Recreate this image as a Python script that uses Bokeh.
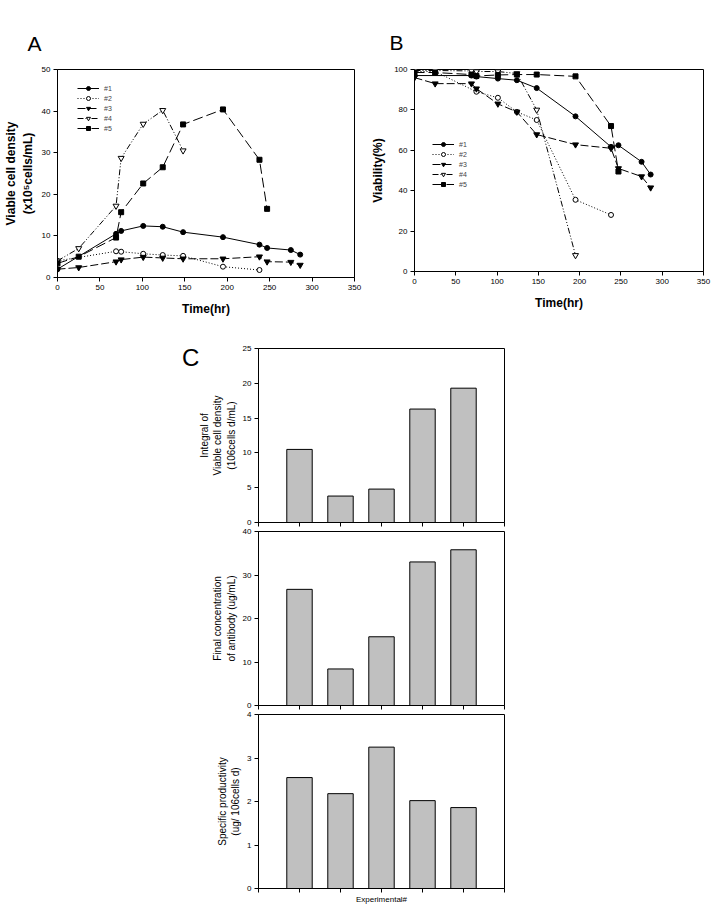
from bokeh.plotting import figure
from bokeh.layouts import column, row
from bokeh.models import Div, Legend, FixedTicker, CustomJSTickFormatter
from bokeh.embed import file_html
from bokeh.resources import INLINE

# ---------------- data ----------------
# Panel A: viable cell density (x10^5 cells/mL)
tA1 = [0, 69, 75, 101, 124, 148, 195, 238, 247, 275, 286]
vA1 = [2.0, 10.5, 11.2, 12.4, 12.2, 10.9, 9.7, 7.9, 7.1, 6.6, 5.5]
tA2 = [0, 69, 75, 101, 124, 148, 195, 238]
vA2 = [4.0, 6.3, 6.2, 5.7, 5.4, 5.2, 2.6, 1.8]
tA3 = [0, 25, 69, 75, 101, 124, 148, 195, 238, 247, 275, 286]
vA3 = [2.0, 2.4, 3.8, 4.3, 4.9, 4.7, 4.5, 4.5, 5.0, 3.8, 3.7, 3.0]
tA4 = [0, 25, 69, 75, 101, 124, 148]
vA4 = [4.0, 7.0, 17.2, 28.7, 36.9, 40.2, 30.5]
tA5 = [0, 25, 69, 75, 101, 124, 148, 195, 238, 247]
vA5 = [3.4, 5.0, 9.6, 15.7, 22.6, 26.5, 36.8, 40.4, 28.3, 16.5]

# Panel B: viability (%)
tB1 = [0, 69, 75, 101, 124, 148, 195, 238, 247, 275, 286]
vB1 = [97.0, 97.0, 96.5, 95.5, 94.7, 90.8, 76.8, 61.7, 62.5, 54.3, 48.0]
tB2 = [0, 25, 75, 101, 124, 148, 195, 238]
vB2 = [99.0, 99.0, 89.0, 86.0, 79.0, 75.0, 35.5, 28.0]
tB3 = [0, 25, 69, 75, 101, 124, 148, 195, 238, 247, 275, 286]
vB3 = [96.0, 93.0, 93.0, 90.5, 83.0, 79.0, 67.8, 62.8, 61.0, 51.0, 47.0, 41.5]
tB4 = [0, 25, 69, 75, 101, 124, 148, 195]
vB4 = [99.5, 99.5, 99.3, 99.0, 99.0, 98.0, 80.0, 8.0]
tB5 = [0, 25, 69, 75, 101, 124, 148, 195, 238, 247]
vB5 = [98.5, 98.5, 97.5, 96.8, 97.3, 97.5, 97.5, 96.6, 72.0, 49.5]

series_labels = ["#1", "#2", "#3", "#4", "#5"]

# Panel C
experiments = [1, 2, 3, 4, 5]
ivcd = [10.5, 3.8, 4.8, 16.3, 19.3]
final_conc = [26.7, 8.4, 15.8, 33.0, 35.8]
spec_prod = [2.55, 2.18, 3.25, 2.02, 1.86]

FONT = "Liberation Sans"

styles = [
    dict(dash="solid", marker="circle", fill="black", size=5),
    dict(dash="1 2", marker="circle", fill="white", size=5),
    dict(dash="8 3", marker="inverted_triangle", fill="black", size=6),
    dict(dash="6 2 1 2 1 2", marker="inverted_triangle", fill="white", size=6),
    dict(dash="10 4", marker="square", fill="black", size=5),
]


def style_axes(p, tick_size="8px"):
    p.outline_line_color = "black"
    p.outline_line_width = 1
    p.xgrid.visible = False
    p.ygrid.visible = False
    for ax in (p.xaxis[0], p.yaxis[0]):
        ax.major_tick_in = 0
        ax.major_tick_out = 4
        ax.minor_tick_in = 0
        ax.minor_tick_out = 0
        ax.axis_line_color = "black"
        ax.major_tick_line_color = "black"
        ax.major_label_text_font = FONT
        ax.major_label_text_font_size = tick_size
        ax.major_label_text_color = "black"
        ax.major_label_standoff = 3
        ax.axis_label_text_font = FONT
        ax.axis_label_text_color = "black"


def letter_title(p, text, offset, standoff):
    p.title.text = text
    p.title.align = "left"
    p.title.offset = offset
    p.title.standoff = standoff
    p.title.text_font = FONT
    p.title.text_font_size = "21px"
    p.title.text_font_style = "normal"
    p.title.text_color = "black"


def line_panel(series, xlab, ylab, ymax, ystep, letter, left, right, top, bottom,
               fw, fh, legend_loc, ylab_standoff):
    p = figure(output_backend="svg", toolbar_location=None,
               x_range=(0, 350), y_range=(0, ymax),
               frame_width=fw, frame_height=fh,
               min_border_left=left, min_border_right=right,
               min_border_top=top, min_border_bottom=bottom)
    style_axes(p)
    p.xaxis.ticker = FixedTicker(ticks=list(range(0, 351, 50)))
    p.yaxis.ticker = FixedTicker(ticks=list(range(0, ymax + 1, ystep)))
    p.xaxis.axis_label = xlab
    p.yaxis.axis_label = ylab
    p.xaxis.axis_label_text_font_size = "12px"
    p.yaxis.axis_label_text_font_size = "12px"
    p.xaxis.axis_label_text_font_style = "bold"
    p.yaxis.axis_label_text_font_style = "bold"
    p.xaxis.axis_label_standoff = 9
    p.yaxis.axis_label_standoff = ylab_standoff
    items = []
    for (t, v), st, lab in zip(series, styles, series_labels):
        l = p.line(t, v, line_color="black", line_width=1, line_dash=st["dash"])
        s = p.scatter(t, v, marker=st["marker"], size=st["size"],
                      fill_color=st["fill"], line_color="black", line_width=1)
        items.append((lab, [l, s]))
    leg = Legend(items=items, location=legend_loc)
    leg.background_fill_alpha = 0
    leg.border_line_alpha = 0
    leg.label_text_font = FONT
    leg.label_text_font_size = "7px"
    leg.label_height = 10
    leg.glyph_height = 10
    leg.glyph_width = 22
    leg.spacing = 0
    leg.padding = 0
    leg.margin = 0
    leg.label_standoff = 5
    p.add_layout(leg)
    letter_title(p, letter[0], letter[1], letter[2])
    return p


pA = line_panel(
    [(tA1, vA1), (tA2, vA2), (tA3, vA3), (tA4, vA4), (tA5, vA5)],
    "Time(hr)", "Viable cell density\n(x10\u2075cells/mL)", 50, 10,
    ("A", -30, 30), 51, 14, 61, 53, 297, 208, (20, 144), 4)

pB = line_panel(
    [(tB1, vB1), (tB2, vB2), (tB3, vB3), (tB4, vB4), (tB5, vB5)],
    "Time(hr)", "Viability(%)", 100, 20,
    ("B", -25, 32), 43, 12, 69, 51, 289, 202, (18, 82), 6)


def bar_panel(values, ymax, ystep, ylab, top, bottom, xlab=None):
    p = figure(output_backend="svg", toolbar_location=None,
               x_range=(0, 6), y_range=(0, ymax),
               frame_width=246, frame_height=174,
               min_border_left=59, min_border_right=17,
               min_border_top=top, min_border_bottom=bottom)
    style_axes(p, tick_size="8px")
    p.border_fill_color = None
    p.vbar(x=experiments, top=values, width=0.62, fill_color="#c0c0c0",
           line_color="black", line_width=1)
    p.xaxis.ticker = FixedTicker(ticks=list(range(0, 7)))
    p.xaxis.formatter = CustomJSTickFormatter(code="return ''")
    p.xaxis.major_label_standoff = 0
    p.yaxis.ticker = FixedTicker(ticks=[i * ystep for i in range(int(ymax / ystep) + 1)])
    p.yaxis.axis_label = ylab
    p.yaxis.axis_label_text_font_size = "10px"
    p.yaxis.axis_label_text_font_style = "normal"
    p.yaxis.axis_label_standoff = 3
    if xlab:
        p.xaxis.axis_label = xlab
        p.xaxis.axis_label_text_font_size = "8px"
        p.xaxis.axis_label_text_font_style = "normal"
        p.xaxis.axis_label_standoff = 2
    return p


c1 = bar_panel(ivcd, 25, 5, "Integral of\nViable cell density\n(106cells d/mL)", 26, 5)
c2 = bar_panel(final_conc, 40, 10, "Final concentration\nof antibody (ug/mL)", 4, 5)
c3 = bar_panel(spec_prod, 4, 1, "Specific productivity\n(ug/ 106cells d)", 4, 15,
               xlab="Experimental#")

letter_c = Div(
    text='<div style="position:relative; left:177px; top:17px; width:30px; '
         'white-space:nowrap; font-family:\'Liberation Sans\'; '
         'font-size:24px; line-height:28px; color:black;">C</div>',
    width=186, height=60, styles={"overflow": "visible", "z-index": "10"})

layout = column(row(pA, pB), row(letter_c, column(c1, c2, c3)))

open("out.html", "w").write(file_html(layout, INLINE))
